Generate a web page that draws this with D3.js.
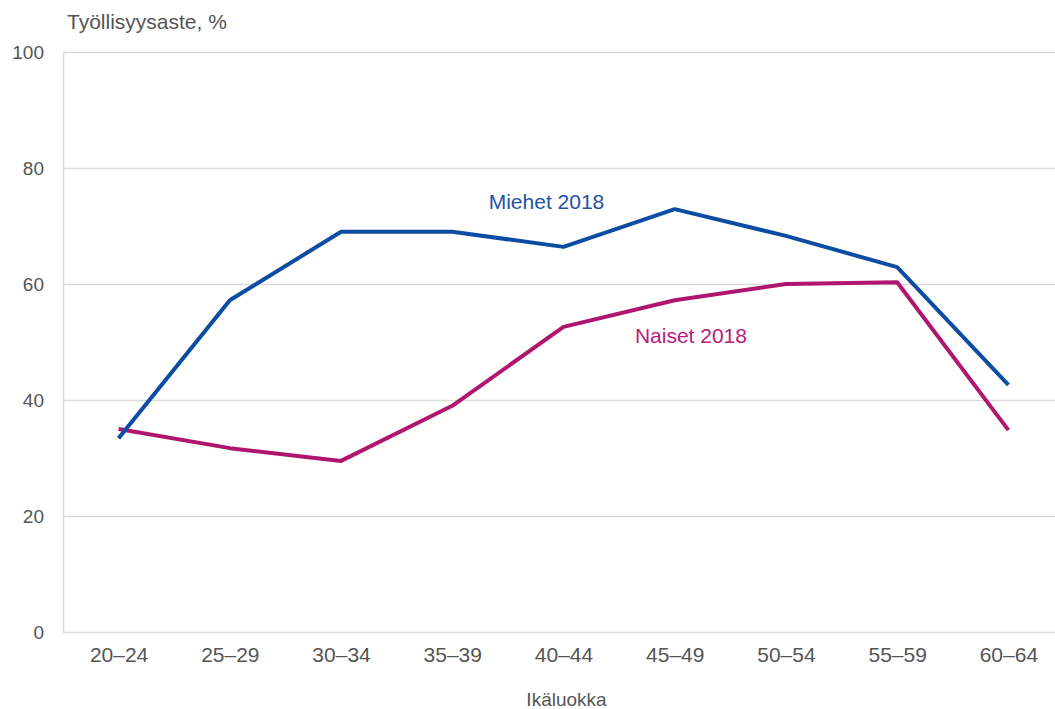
<!DOCTYPE html>
<html>
<head>
<meta charset="utf-8">
<script src="https://cdn.jsdelivr.net/npm/d3@7"></script>
<style>
  html, body { margin: 0; padding: 0; background: #fff; }
  svg { display: block; }
  text { font-family: "Liberation Sans", Arial, sans-serif; }
</style>
</head>
<body>
<svg id="chart" width="1055" height="709"></svg>
<script>
const categories = ["20–24","25–29","30–34","35–39","40–44","45–49","50–54","55–59","60–64"];
const miehet = [33.4, 57.2, 69.0, 69.0, 66.4, 72.9, 68.3, 62.9, 42.6];
const naiset = [35.0, 31.7, 29.5, 39.0, 52.6, 57.2, 60.0, 60.3, 34.8];
const yTicks = [0, 20, 40, 60, 80, 100];
const seriesNames = ["Miehet 2018", "Naiset 2018"];

(function () {
const svg = d3.select("#chart");
const mLeft = 63, mRight = 1064, mTop = 52, mBottom = 632;

const x = d3.scalePoint().domain(categories).range([mLeft, mRight]).padding(0.5);
const y = d3.scaleLinear().domain([0, 100]).range([mBottom, mTop]);

// gridlines
svg.append("g").selectAll("line").data(yTicks).join("line")
  .attr("x1", mLeft).attr("x2", mRight)
  .attr("y1", d => y(d) + 0.5).attr("y2", d => y(d) + 0.5)
  .attr("stroke", "#dadada").attr("stroke-width", 1.5);
// left axis line
svg.append("line").attr("x1", mLeft + 0.5).attr("x2", mLeft + 0.5)
  .attr("y1", mTop).attr("y2", mBottom + 1)
  .attr("stroke", "#dadada").attr("stroke-width", 1.5);

// y axis labels
const yAxis = d3.axisLeft(y).tickValues(yTicks).tickSize(0).tickPadding(0);
const ya = svg.append("g").attr("transform", `translate(${mLeft - 19},0)`).call(yAxis);
ya.select(".domain").remove();
ya.selectAll("text").attr("font-size", 19).attr("fill", "#555")
  .attr("font-family", "Liberation Sans, Arial, sans-serif").attr("dy", "0.35em");

// x axis labels
const xAxis = d3.axisBottom(x).tickSize(0).tickPadding(0);
const xa = svg.append("g").attr("transform", `translate(0,${mBottom + 15})`).call(xAxis);
xa.select(".domain").remove();
xa.selectAll("text").attr("font-size", 21).attr("fill", "#555")
  .attr("font-family", "Liberation Sans, Arial, sans-serif").attr("dy", "0.7em");

// titles
svg.append("text").attr("x", 67).attr("y", 29).attr("font-size", 21).attr("fill", "#555")
  .text("Työllisyysaste, %");
svg.append("text").attr("x", (mLeft + mRight) / 2 + 3).attr("y", 706).attr("text-anchor", "middle")
  .attr("font-size", 19).attr("fill", "#555").text("Ikäluokka");

// lines
const line = d3.line().x((d, i) => x(categories[i])).y(d => y(d));
svg.append("path").datum(naiset).attr("d", line).attr("fill", "none")
  .attr("stroke", "#b0166e").attr("stroke-width", 4).attr("stroke-linejoin", "round");
svg.append("path").datum(miehet).attr("d", line).attr("fill", "none")
  .attr("stroke", "#0c4ca2").attr("stroke-width", 4).attr("stroke-linejoin", "round");

// series labels
svg.append("text").attr("x", x(categories[4]) - 17).attr("y", y(73.8) + 5).attr("text-anchor", "middle")
  .attr("font-size", 21).attr("fill", "#1f52a3").text(seriesNames[0]);
svg.append("text").attr("x", x(categories[6]) - 95).attr("y", y(50.8) + 6).attr("text-anchor", "middle")
  .attr("font-size", 21).attr("fill", "#b5207a").text(seriesNames[1]);
})();
</script>
</body>
</html>
